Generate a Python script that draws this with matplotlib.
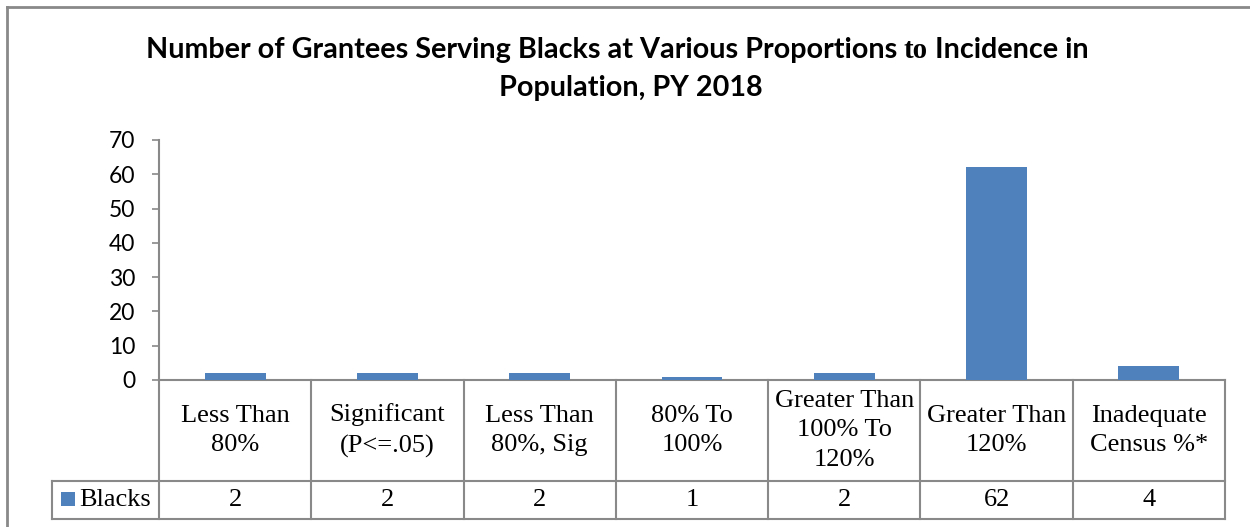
import matplotlib
matplotlib.use('Agg')
import matplotlib.pyplot as plt
from matplotlib.lines import Line2D
from matplotlib.patches import Rectangle
import matplotlib.transforms as mtransforms

# ---- data ----
categories = ["Less Than\n80%", "Significant\n(P<=.05)", "Less Than\n80%, Sig",
              "80% To\n100%", "Greater Than\n100% To\n120%", "Greater Than\n120%",
              "Inadequate\nCensus %*"]
series_name = "Blacks"
values = [2, 2, 2, 1, 2, 62, 4]
y_ticks = [0, 10, 20, 30, 40, 50, 60, 70]
title_line1 = ["Number of Grantees Serving Blacks at Various Proportions ", "to", " Incidence in"]
title_line2 = "Population, PY 2018"

# ---- layout helpers ----
W, H = 1250, 527
fig = plt.figure(figsize=(12.5, 5.27), dpi=100)
def fx(px): return px / W
def fy(py): return 1 - py / H

GRAY = '#898989'
BAR = '#4f81bd'
SANS = 'Lato'
SERIF = 'Liberation Serif'

# outer border (top and left visible)
fig.add_artist(Line2D([fx(7), 1.0], [fy(7), fy(7)], transform=fig.transFigure, color=GRAY, lw=2))
fig.add_artist(Line2D([fx(7), fx(7)], [fy(7), 0.0], transform=fig.transFigure, color=GRAY, lw=2))

ax_left, ax_right, ax_top, ax_bot = 159, 1225, 140, 380
ax = fig.add_axes([fx(ax_left), fy(ax_bot), (ax_right - ax_left) / W, (ax_bot - ax_top) / H])
xs = list(range(len(values)))
ax.bar(xs, values, width=0.4, color=BAR, zorder=3)
ax.set_xlim(-0.5, len(values) - 0.5)
ax.set_ylim(0, 70)
ax.set_yticks(y_ticks)
ax.set_xticks([])
for s in ['top', 'right']:
    ax.spines[s].set_visible(False)
for s in ['left', 'bottom']:
    ax.spines[s].set_color(GRAY)
    ax.spines[s].set_linewidth(1.5)
ax.tick_params(axis='y', direction='out', length=5, width=1.2, color=GRAY, pad=12,
               labelsize=16.5)
for lab in ax.get_yticklabels():
    lab.set_fontfamily(SANS)
ax.set_facecolor('none')

# ---- data table ----
ah = ax_bot - ax_top
row1_bot = 481
row2_bot = 519
legend_left = 52
blend = mtransforms.blended_transform_factory(ax.transData, ax.transAxes)
y_row1 = -(row1_bot - ax_bot) / ah
y_row2 = -(row2_bot - ax_bot) / ah
for i in range(len(values) + 1):
    ax.add_line(Line2D([i - 0.5, i - 0.5], [0, y_row2], transform=blend, color=GRAY,
                       lw=1.5, clip_on=False))
for py in (row1_bot, row2_bot):
    fig.add_artist(Line2D([fx(legend_left), fx(ax_right)], [fy(py), fy(py)],
                          transform=fig.transFigure, color=GRAY, lw=1.5))
fig.add_artist(Line2D([fx(legend_left), fx(legend_left)], [fy(row1_bot), fy(row2_bot)],
                      transform=fig.transFigure, color=GRAY, lw=1.5))

y_cat = -((row1_bot + ax_bot) / 2 - ax_bot) / ah
y_val = -((row1_bot + row2_bot) / 2 - ax_bot) / ah
for i, (c, v) in enumerate(zip(categories, values)):
    ax.text(i, y_cat, c, transform=blend, ha='center', va='center', fontsize=19,
            family=SERIF, linespacing=1.45, clip_on=False)
    ax.text(i, y_val, str(v), transform=blend, ha='center', va='center', fontsize=19,
            family=SERIF, clip_on=False)

# legend key
fig.add_artist(Rectangle((fx(61), fy(506)), 14 / W, 14 / H, transform=fig.transFigure,
                         facecolor=BAR, edgecolor='none'))
fig.text(fx(79), fy(500), series_name, ha='left', va='center', fontsize=19, family=SERIF)

# ---- title ----
renderer = fig.canvas.get_renderer()
fs = 19
fams = [SANS, SERIF, SANS]
pieces = []
for t, f in zip(title_line1, fams):
    pieces.append(fig.text(0, fy(58), t, ha='left', va='baseline', fontsize=fs,
                           family=f, fontweight='bold'))
def total_w():
    return sum(p.get_window_extent(renderer).width for p in pieces)
target = 941
fs = fs * target / total_w()
for p in pieces:
    p.set_fontsize(fs)
tw = total_w()
x0 = 617 - tw / 2
for p in pieces:
    p.set_x(fx(x0))
    x0 += p.get_window_extent(renderer).width
fig.text(fx(631), fy(96), title_line2, ha='center', va='baseline', fontsize=fs,
         family=SANS, fontweight='bold')

fig.savefig('out.png', dpi=100)
